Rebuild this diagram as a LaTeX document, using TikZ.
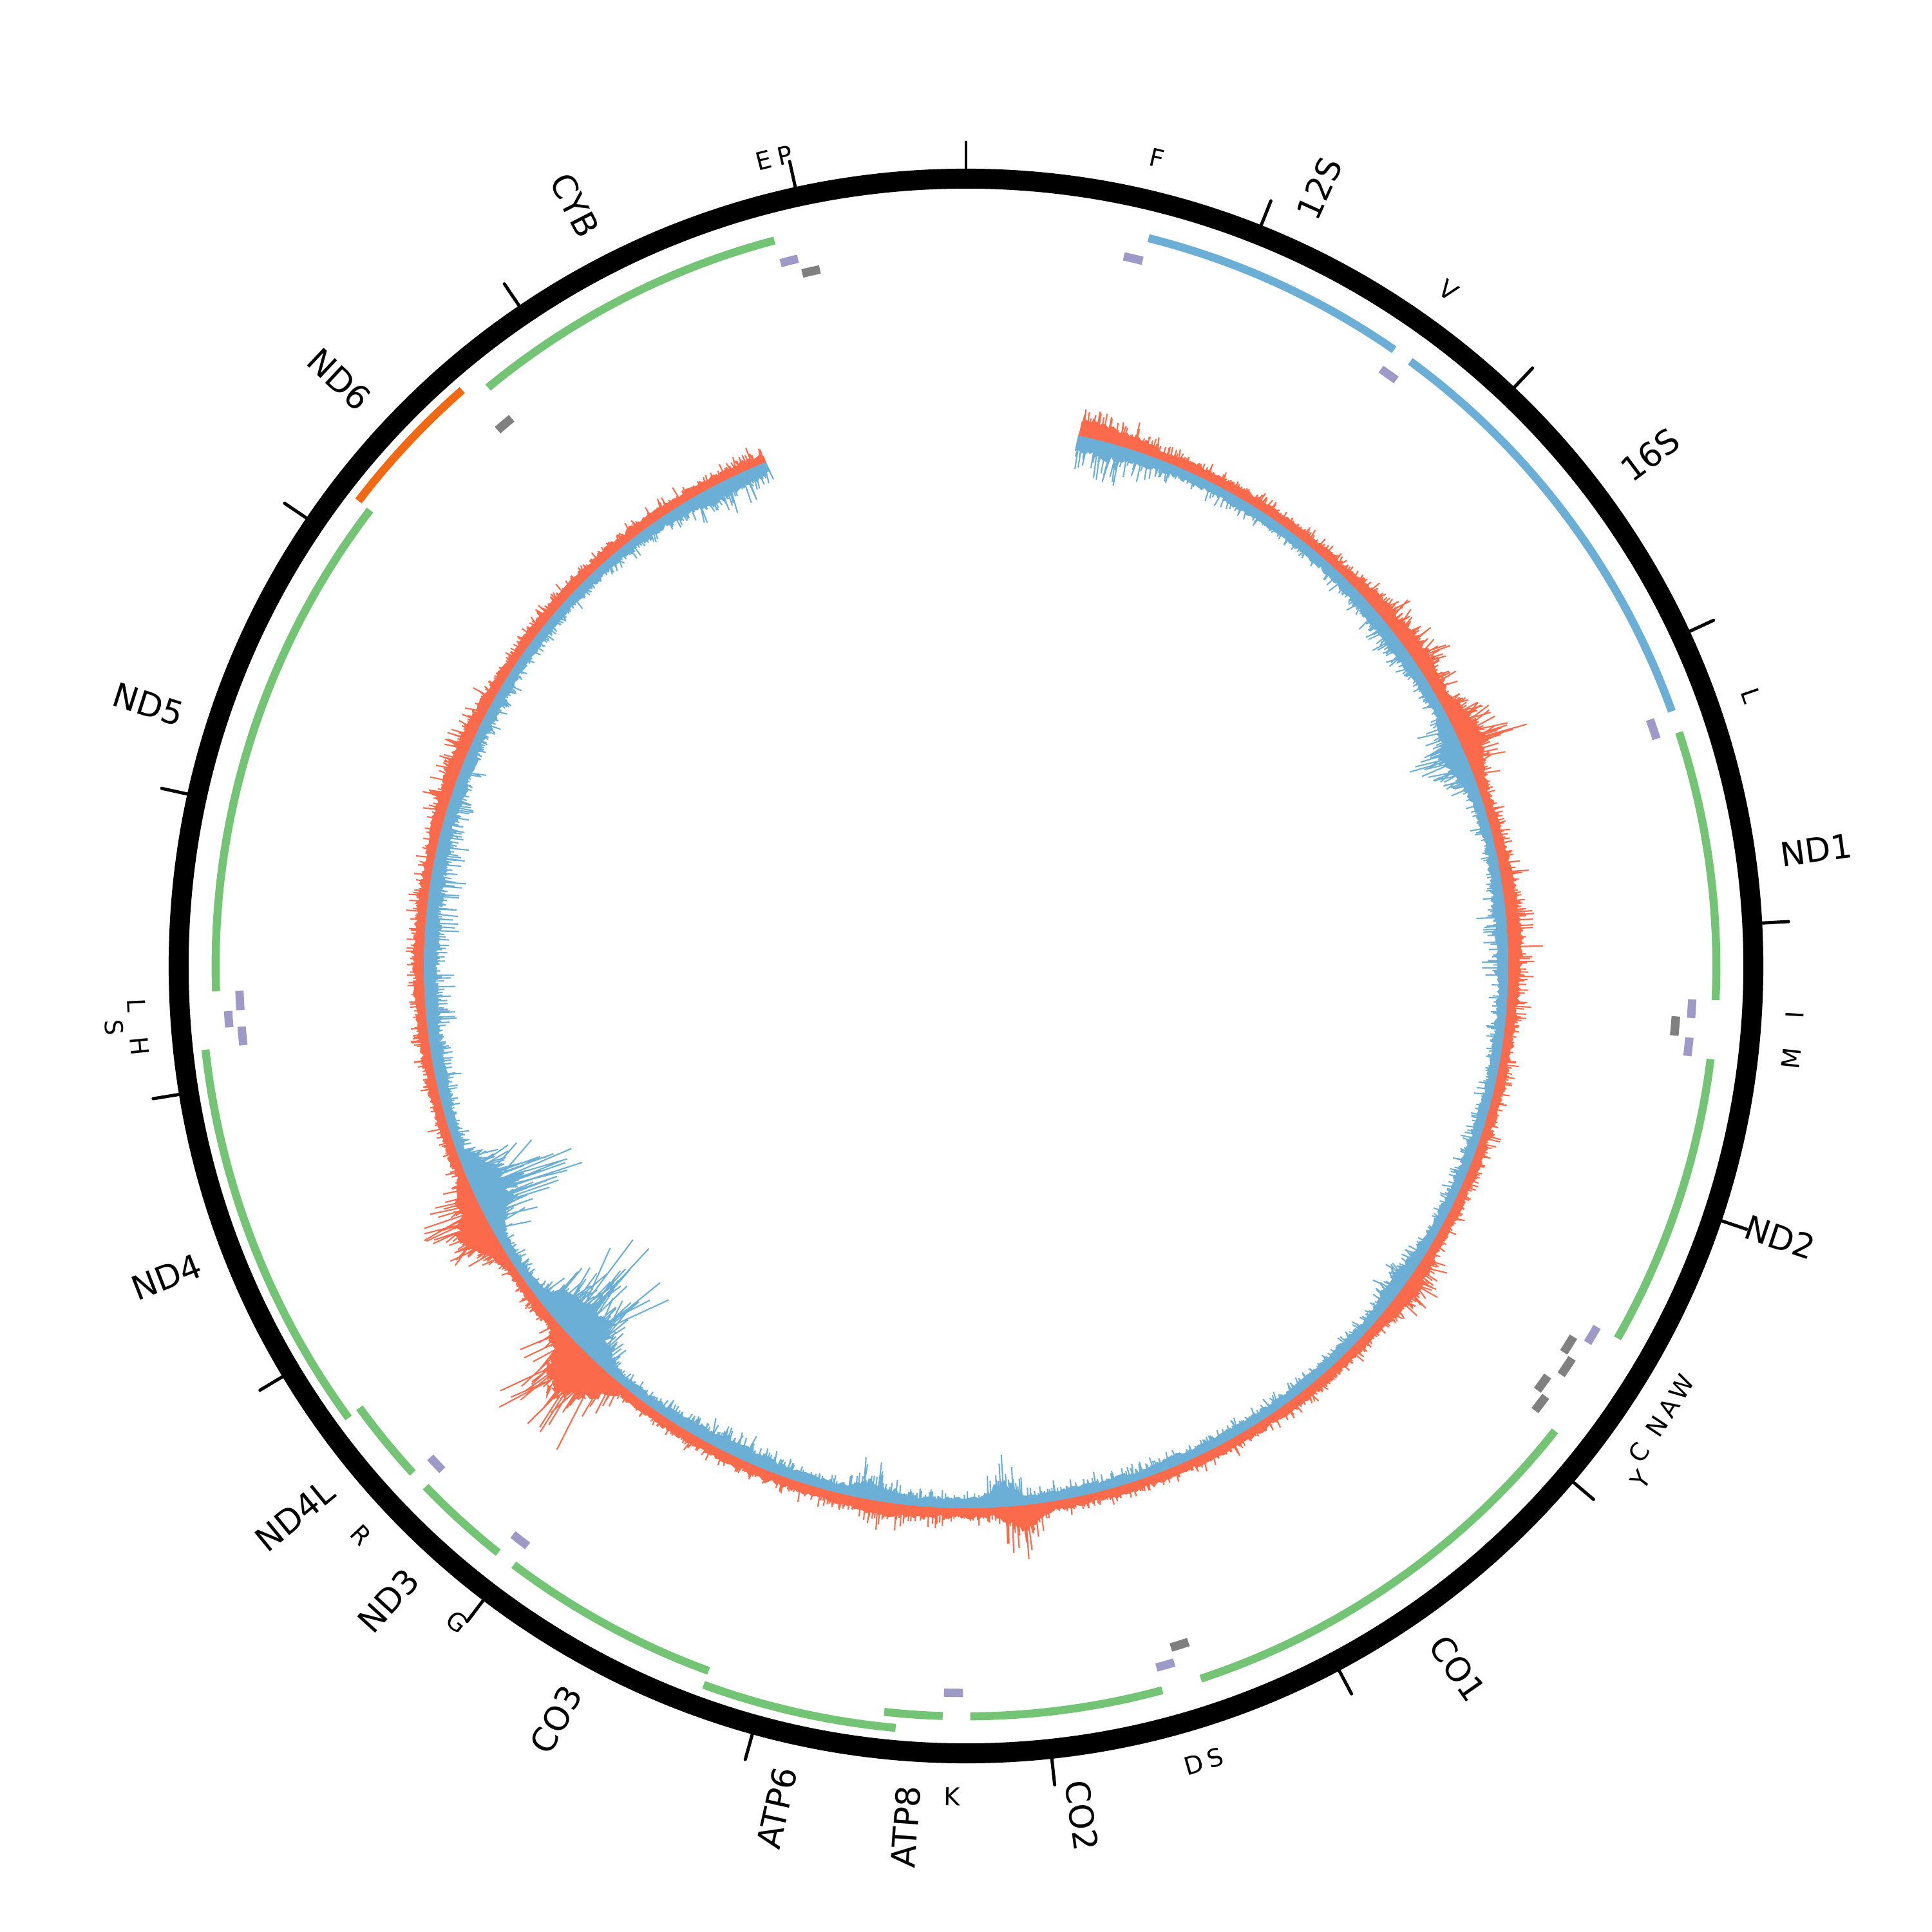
\documentclass[tikz,border=0pt]{standalone}
\usepackage{fontspec}
\setmainfont{DejaVu Sans}
\definecolor{gn}{HTML}{74C476}
\definecolor{rb}{HTML}{6BAED6}
\definecolor{ndsix}{HTML}{F16913}
\definecolor{tp}{HTML}{9E9AC8}
\definecolor{tm}{HTML}{808080}
\definecolor{covr}{HTML}{FB6A4A}
\definecolor{covb}{HTML}{6BAED6}
\newcommand\garc[4]{\draw[#4] ({90-#1*0.0217273}:#3) arc[start angle={90-#1*0.0217273}, end angle={90-#2*0.0217273}, radius=#3];}
\begin{document}
\begin{tikzpicture}[x=0.2mm,y=0.2mm,
  gene/.style={line width=1.3mm, color=gn},
  rrna/.style={line width=1.3mm, color=rb},
  mgene/.style={line width=1.3mm, color=ndsix},
  trp/.style={line width=1.36mm, color=tp},
  trm/.style={line width=1.4mm, color=tm},
  tickl/.style={line width=0.52mm, line cap=round},
  barr/.style={line width=0.22mm, color=covr},
  barb/.style={line width=0.22mm, color=covb},
  glabel/.style={inner sep=0pt, font=\fontsize{15.4}{17}\selectfont},
  tlabel/.style={inner sep=0pt, font=\fontsize{11.4}{13}\selectfont}]
\useasboundingbox (-784,-784) rectangle (784,784);
\pgfmathsetseed{12345}
% coverage core (red, outward)
\fill[covr] ({90-12}:440)
  \foreach \ta/\tb/\n/\bs/\pk/\cc/\ww in {12/30/60/18/22/14/7,30/60/100/18/25/54/10,60/75/50/18/55/65/5,75/100/80/18/14/86/12,100/150/160/18/22/126/5,150/182/105/18/45/174/3,182/200/60/18/12/188/5,200/233/115/18/130/224/5,233/265/105/18/75/242/5,265/338.3/235/18/14/292/10}
  { -- plot[domain=\ta:\tb, samples=\n, variable=\t] ({90-\t}:{440+\bs*(0.33+0.2*rnd)+\pk*max(0,1-abs(\t-\cc)/\ww)*(0.15+0.2*rnd)}) }
  -- ({90-338.3}:440) arc[start angle={90-338.3}, end angle={90-12}, radius=440] -- cycle;
% coverage core (blue, inward)
\fill[covb] ({90-12}:440)
  \foreach \ta/\tb/\n/\bs/\pk/\cc/\ww in {12/35/75/18/24/15/7,35/60/80/18/12/53/10,60/78/60/18/48/67/5,78/110/105/18/10/86/8,110/150/130/18/16/126/5,150/183/105/18/48/176/2.5,183/198/50/18/28/190/3,198/216/60/18/12/205/10,216/236/70/18/125/227/6,236/255/65/18/118/245/5,255/315/195/18/14/275/30,315/338.3/75/18/20/333/8}
  { -- plot[domain=\ta:\tb, samples=\n, variable=\t] ({90-\t}:{440-\bs*(0.33+0.2*rnd)-\pk*max(0,1-abs(\t-\cc)/\ww)*(0.15+0.2*rnd)}) }
  -- ({90-338.3}:440) arc[start angle={90-338.3}, end angle={90-12}, radius=440] -- cycle;
% coverage spikes (red bars outward)
\foreach \ta/\tb/\n/\bs/\pk/\cc/\ww in {12/30/120/18/22/14/7,30/60/200/18/25/54/10,60/75/100/18/55/65/5,75/100/160/18/14/86/12,100/150/320/18/22/126/5,150/182/210/18/45/174/3,182/200/120/18/12/188/5,200/233/230/18/130/224/5,233/265/210/18/75/242/5,265/338.3/470/18/14/292/10}{
  \draw[barr] \foreach \i [evaluate=\i as \t using \ta+\i/\n*(\tb-\ta)] in {0,...,\n}{
    ({90-\t}:440) -- ({90-\t}:{440+(\bs+\pk*max(0,1-abs(\t-\cc)/\ww))*(0.3+0.7*rnd*rnd)}) };
}
% coverage spikes (blue bars inward)
\foreach \ta/\tb/\n/\bs/\pk/\cc/\ww in {12/35/150/18/24/15/7,35/60/160/18/12/53/10,60/78/120/18/48/67/5,78/110/210/18/10/86/8,110/150/260/18/16/126/5,150/183/210/18/48/176/2.5,183/198/100/18/28/190/3,198/216/120/18/12/205/10,216/236/140/18/125/227/6,236/255/130/18/118/245/5,255/315/390/18/14/275/30,315/338.3/150/18/20/333/8}{
  \draw[barb] \foreach \i [evaluate=\i as \t using \ta+\i/\n*(\tb-\ta)] in {0,...,\n}{
    ({90-\t}:440) -- ({90-\t}:{440-(\bs+\pk*max(0,1-abs(\t-\cc)/\ww))*(0.3+0.7*rnd*rnd)}) };
}
% genes
\foreach \s/\e in {3307/4262,4470/5511,5904/7445,7586/8269,8366/8572,9207/9990,10059/10404,10470/10766,12337/14148,14747/15887}{\garc{\s}{\e}{609}{gene}}
\foreach \s/\e in {8527/9207,10760/12137}{\garc{\s}{\e}{621}{gene}}
\foreach \s/\e in {648/1601,1671/3229}{\garc{\s}{\e}{609}{rrna}}
\garc{14149}{14673}{621}{mgene}
% tRNAs
\foreach \s/\e in {577/647,1602/1670,3230/3304,4263/4331,4402/4469,5512/5579,7518/7585,8295/8364,9991/10058,10405/10469,12138/12206,12266/12336,15888/15953}{\garc{\s}{\e}{590}{trp}}
\garc{12207}{12265}{600}{trp}
\foreach \s/\e in {4329/4400,5587/5655,5761/5826,7446/7514,14674/14742,15956/16023}{\garc{\s}{\e}{577.6}{trm}}
\foreach \s/\e in {5657/5729,5826/5891}{\garc{\s}{\e}{586}{trm}}
% ring and ticks
\draw[line width=3.24mm] (0,0) circle (639);
\foreach \k in {0,...,16}{\draw[tickl] ({90-\k*21.7273}:647) -- ({90-\k*21.7273}:668.5);}
% gene labels
\foreach \nm/\a/\txt in {g1/24.43/12S,g2/53.23/16S,g3/82.23/ND1,g4/108.43/ND2,g5/145.02/CO1,g6/172.24/CO2}{
  \node[glabel, anchor=west, rotate={90-\a}] (\nm) at ({90-\a}:667) {\txt};}
\foreach \nm/\a/\txt in {g7/184.01/ATP8,g8/192.66/ATP6,g9/208.55/CO3,g10/222.30/ND3,g11/230.70/ND4L,g12/248.74/ND4,g13/287.73/ND5,g14/313.11/ND6,g15/332.80/CYB}{
  \node[glabel, anchor=east, rotate={270-\a}] (\nm) at ({90-\a}:667) {\txt};}
% tRNA labels
\foreach \nm/\a/\r/\txt in {t1/13.30/674/F,t2/35.55/674/V,t3/70.98/674/L,t4/345.91/674/E,t5/347.41/674/P}{
  \node[tlabel, rotate={-\a}] (\nm) at ({90-\a}:\r) {\txt};}
\foreach \nm/\a/\r/\txt in {t6/93.36/674/I,t7/96.37/674/M,t8/120.49/674/W,t9/122.13/674/A,t10/123.69/674/N,t11/125.88/674/C,t12/127.29/688/Y,t13/162.52/674/S,t14/164.07/674/D,t15/180.98/674/K,t16/217.81/674/G,t17/226.77/674/R,t18/264.47/674/H,t19/265.86/693/S,t20/267.27/674/L}{
  \node[tlabel, rotate={180-\a}] (\nm) at ({90-\a}:\r) {\txt};}
\end{tikzpicture}
\end{document}
